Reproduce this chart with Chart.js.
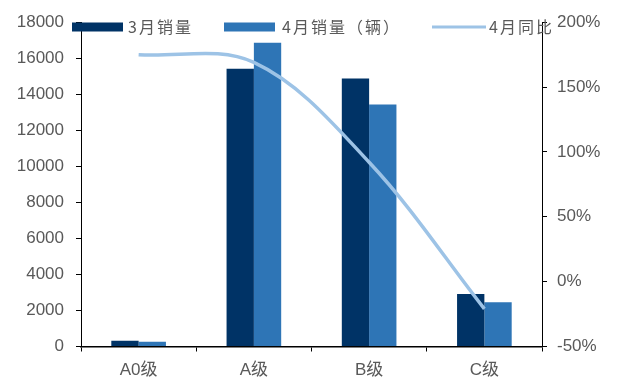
<!DOCTYPE html>
<html>
<head>
<meta charset="utf-8">
<script src="https://cdn.jsdelivr.net/npm/chart.js@4/dist/chart.umd.min.js"></script>
<style>
  html, body { margin: 0; padding: 0; background: #fff; }
  #wrap { width: 617px; height: 381px; position: relative; }
</style>
</head>
<body>
<div id="wrap"><canvas id="c" width="617" height="381"></canvas></div>
<script>
// Vehicle classes and monthly sales
const categories = ['A0级', 'A级', 'B级', 'C级'];
const seriesNames = ['3月销量', '4月销量（辆）', '4月同比'];
const marchSales = [320, 15420, 14870, 2910];
const aprilSales = [260, 16860, 13430, 2450];
const aprilYoY = [175, 169, 92, -21];   // percent
const leftTicks = { min: 0, max: 18000, step: 2000 };
const rightTicks = { min: -50, max: 200, step: 50 };

const COLORS = ['#003366', '#2E75B6', '#9DC3E6'];
const TEXT = '#595959';
const TICK_FONT = { family: "'Liberation Sans', Arial, 'Noto Sans CJK SC', sans-serif", size: 17 };

// Legend drawn inside the top band of the plot
const topLegend = {
  id: 'topLegend',
  afterDraw(chart) {
    const ctx = chart.ctx;
    ctx.save();
    ctx.font = "16px 'Noto Sans CJK SC', sans-serif";
    ctx.fillStyle = TEXT;
    ctx.textBaseline = 'middle';
    ctx.letterSpacing = '2px';
    const y = 27;
    const items = [
      { x: 72, kind: 'box', color: COLORS[0], label: seriesNames[0], tx: 128 },
      { x: 224, kind: 'box', color: COLORS[1], label: seriesNames[1], tx: 282 },
      { x: 432, kind: 'line', color: COLORS[2], label: seriesNames[2], tx: 489 }
    ];
    items.forEach(it => {
      if (it.kind === 'box') {
        ctx.fillStyle = it.color;
        ctx.fillRect(it.x, y - 4.5, 51, 9);
      } else {
        ctx.strokeStyle = it.color;
        ctx.lineWidth = 3;
        ctx.beginPath();
        ctx.moveTo(it.x, y);
        ctx.lineTo(it.x + 54, y);
        ctx.stroke();
      }
      ctx.fillStyle = TEXT;
      ctx.fillText(it.label, it.tx, y);
    });
    ctx.restore();
  }
};

new Chart(document.getElementById('c'), {
  data: {
    labels: categories,
    datasets: [
      {
        type: 'line', label: seriesNames[2], data: aprilYoY, yAxisID: 'y2',
        borderColor: COLORS[2], borderWidth: 3.5, pointRadius: 0, tension: 0.35,
        fill: false, order: 0
      },
      {
        type: 'bar', label: seriesNames[0], data: marchSales, yAxisID: 'y',
        backgroundColor: COLORS[0], categoryPercentage: 0.474, barPercentage: 1, order: 1
      },
      {
        type: 'bar', label: seriesNames[1], data: aprilSales, yAxisID: 'y',
        backgroundColor: COLORS[1], categoryPercentage: 0.474, barPercentage: 1, order: 1
      }
    ]
  },
  options: {
    responsive: false,
    animation: false,
    layout: { padding: { top: 21, left: 0, right: 0, bottom: 0 } },
    plugins: { legend: { display: false }, tooltip: { enabled: false } },
    scales: {
      x: {
        grid: { offset: true, drawOnChartArea: false, drawTicks: true, tickLength: 5, color: '#000' },
        border: { color: '#000', width: 1.5 },
        ticks: { color: TEXT, font: TICK_FONT, padding: 9 },
        afterFit(s) { s.height = 34.5; }
      },
      y: {
        position: 'left', min: leftTicks.min, max: leftTicks.max,
        grid: { drawOnChartArea: false, drawTicks: true, tickLength: 5, color: '#000' },
        border: { color: '#000', width: 1 },
        ticks: { stepSize: leftTicks.step, color: TEXT, font: TICK_FONT, padding: 12,
                 callback: v => String(v) },
        afterFit(s) { s.width = 81; }
      },
      y2: {
        position: 'right', min: rightTicks.min, max: rightTicks.max,
        grid: { drawOnChartArea: false, drawTicks: true, tickLength: 5, color: '#000' },
        border: { color: '#000', width: 1 },
        ticks: { stepSize: rightTicks.step, color: TEXT, font: TICK_FONT, padding: 10,
                 callback: v => v + '%' },
        afterFit(s) { s.width = 75; }
      }
    }
  },
  plugins: [topLegend]
});
</script>
</body>
</html>
